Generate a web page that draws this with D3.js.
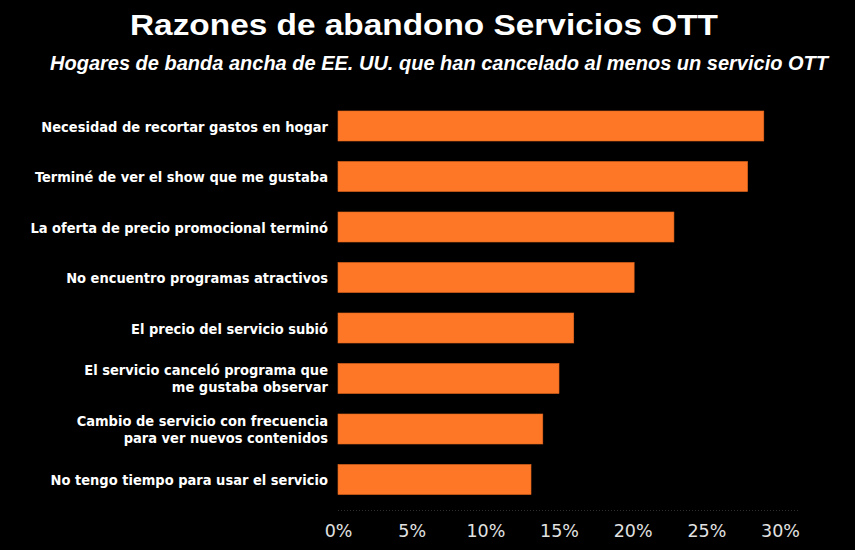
<!DOCTYPE html>
<html><head><meta charset="utf-8">
<script src="https://cdn.jsdelivr.net/npm/d3@7"></script>
<style>
html,body{margin:0;padding:0;background:#000;}
svg{display:block;}
</style></head>
<body>
<svg id="chart" width="855" height="550"></svg>
<script>
const title = "Razones de abandono Servicios OTT";
const subtitle = "Hogares de banda ancha de EE. UU. que han cancelado al menos un servicio OTT";
const categories = [
  ["Necesidad de recortar gastos en hogar"],
  ["Terminé de ver el show que me gustaba"],
  ["La oferta de precio promocional terminó"],
  ["No encuentro programas atractivos"],
  ["El precio del servicio subió"],
  ["El servicio canceló programa que", "me gustaba observar"],
  ["Cambio de servicio con frecuencia", "para ver nuevos contenidos"],
  ["No tengo tiempo para usar el servicio"]
];
const values = [28.9, 27.8, 22.8, 20.1, 16.0, 15.0, 13.9, 13.1];
const tickValues = [0, 5, 10, 15, 20, 25, 30];

const svg = d3.select("#chart");
svg.append("rect").attr("width", 855).attr("height", 550).attr("fill", "#000");

const keys = categories.map(c => c.join(" "));
const x = d3.scaleLinear().domain([0, 30]).range([338, 780]);
const y = d3.scaleBand().domain(keys).range([100.75, 504.75]).paddingInner(0.406).paddingOuter(0.203);

// title
svg.append("text").attr("x", 424).attr("y", 35).attr("text-anchor", "middle")
  .attr("font-family", "Liberation Sans, Arial, sans-serif").attr("font-weight", "bold")
  .attr("font-size", 30).attr("fill", "#fff")
  .attr("textLength", 588).attr("lengthAdjust", "spacingAndGlyphs").text(title);
svg.append("text").attr("x", 439).attr("y", 70).attr("text-anchor", "middle")
  .attr("font-family", "Liberation Sans Narrow, Liberation Sans, Arial, sans-serif").attr("font-weight", "bold")
  .attr("font-style", "italic").attr("font-size", 20).attr("fill", "#fff")
  .attr("textLength", 778).attr("lengthAdjust", "spacingAndGlyphs").text(subtitle);

// dotted baseline
svg.append("line").attr("x1", x(0)).attr("x2", 798).attr("y1", 510.5).attr("y2", 510.5)
  .attr("stroke", "#2e2e2e").attr("stroke-width", 1).attr("stroke-dasharray", "1,2");

// bars
svg.append("g").selectAll("rect").data(values).join("rect")
  .attr("x", x(0)).attr("y", (d, i) => y(keys[i]))
  .attr("width", d => x(d) - x(0)).attr("height", y.bandwidth())
  .attr("fill", "#fd7726").attr("stroke", "#e5661c").attr("stroke-width", 0.6);

// category labels
const lab = svg.append("g")
  .attr("font-family", "Liberation Sans Narrow, DejaVu Sans Condensed, Arial, sans-serif")
  .attr("font-weight", "bold").attr("font-size", 14.5).attr("fill", "#fff").attr("text-anchor", "end");
categories.forEach((lines, i) => {
  const cy = y(keys[i]) + y.bandwidth() / 2;
  if (lines.length === 1) {
    lab.append("text").attr("x", 328).attr("y", cy + 5.5).text(lines[0]);
  } else {
    lab.append("text").attr("x", 328).attr("y", cy - 3.5).text(lines[0]);
    lab.append("text").attr("x", 328).attr("y", cy + 13.5).text(lines[1]);
  }
});

// x axis
const axis = d3.axisBottom(x).tickValues(tickValues).tickFormat(d => d + "%").tickSize(0).tickPadding(0);
const ag = svg.append("g").attr("transform", "translate(0,520)").call(axis);
ag.select(".domain").remove();
ag.selectAll("text").attr("font-family", "DejaVu Sans, sans-serif").attr("font-size", 17.5)
  .attr("fill", "#e2e2e2").attr("dy", "0.95em");
</script>
</body></html>
